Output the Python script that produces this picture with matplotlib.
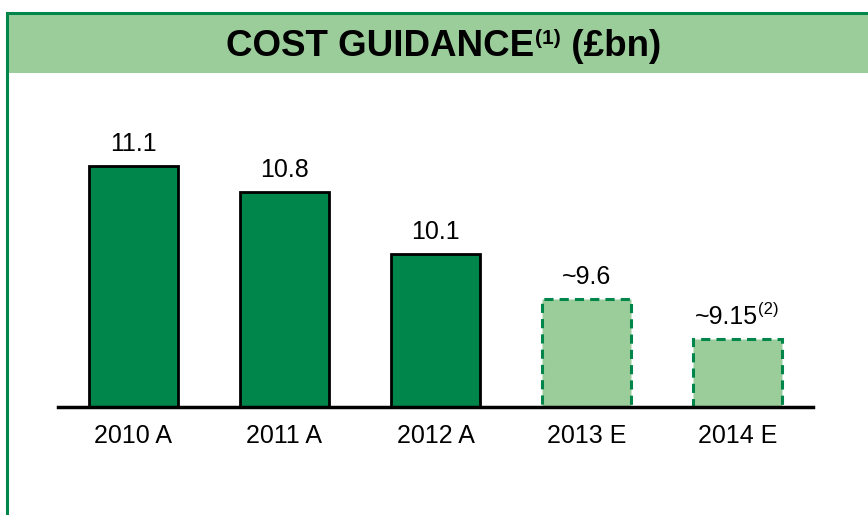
import matplotlib.pyplot as plt
from matplotlib.patches import Rectangle

plt.rcParams["font.family"] = ["Liberation Sans", "DejaVu Sans"]

CATEGORIES = ["2010 A", "2011 A", "2012 A", "2013 E", "2014 E"]
VALUES = [11.1, 10.8, 10.1, 9.6, 9.15]
LABELS = ["11.1", "10.8", "10.1", "~9.6", "~9.15"]
IS_ESTIMATE = [False, False, False, True, True]
FOOTNOTES = ["", "", "", "", "(2)"]

DARK_GREEN = "#00854A"
LIGHT_GREEN = "#9BCD9B"
W, H = 868, 515
Y_MIN = 8.38
Y_MAX = 11.84


def px(x, y):
    # pixel coords (top-left origin) -> figure fraction
    return x / W, 1 - y / H


fig = plt.figure(figsize=(W / 100, H / 100), dpi=100)

# header band and frame
band = Rectangle(px(7, 73), (W - 7) / W, 60 / H, transform=fig.transFigure,
                 facecolor=LIGHT_GREEN, edgecolor="none", zorder=-1)
fig.add_artist(band)
fig.add_artist(plt.Line2D([7 / W, 1], [1 - 13 / H] * 2, color=DARK_GREEN, lw=2.2))
fig.add_artist(plt.Line2D([7 / W] * 2, [0, 1 - 13 / H], color=DARK_GREEN, lw=2.2))

x0, y0 = px(58, 407)
x1, y1 = px(813, 100)
ax = fig.add_axes([x0, y0, x1 - x0, y1 - y0])
ax.patch.set_visible(False)
ax.set_xlim(-0.5, len(CATEGORIES) - 0.5)
ax.set_ylim(Y_MIN, Y_MAX)

# title in pieces so the footnote mark can be raised
t1 = ax.annotate("COST GUIDANCE", xy=px(226, 47), xycoords="figure fraction",
                 fontsize=26.5, fontweight="bold", ha="left", va="center",
                 annotation_clip=False)
t2 = ax.annotate("(1)", xy=(1, 1), xycoords=t1, xytext=(1, 1),
                 textcoords="offset pixels", fontsize=15, fontweight="bold",
                 ha="left", va="top", annotation_clip=False)
ax.annotate(" (£bn)", xy=(1, 0), xycoords=(t2, t1), xytext=(0, 0),
            textcoords="offset pixels", fontsize=26.5, fontweight="bold",
            ha="left", va="bottom", annotation_clip=False)

for i, (val, est) in enumerate(zip(VALUES, IS_ESTIMATE)):
    if est:
        ax.bar(i, val - Y_MIN, bottom=Y_MIN, width=0.59, color=LIGHT_GREEN,
               edgecolor=DARK_GREEN, linewidth=2.2, linestyle=(0, (3, 2)))
    else:
        ax.bar(i, val - Y_MIN, bottom=Y_MIN, width=0.59, color=DARK_GREEN,
               edgecolor="black", linewidth=2)

for i, (val, lab, note) in enumerate(zip(VALUES, LABELS, FOOTNOTES)):
    shift = -11 if note else 0
    t = ax.annotate(lab, xy=(i, val), xytext=(shift, 22), textcoords="offset pixels",
                    ha="center", va="center", fontsize=18)
    if note:
        ax.annotate(note, xy=(1, 1), xycoords=t, xytext=(0, 3),
                    textcoords="offset pixels", ha="left", va="top", fontsize=12)

for side in ["left", "right", "top"]:
    ax.spines[side].set_visible(False)
ax.spines["bottom"].set_linewidth(2.5)
ax.spines["bottom"].set_zorder(5)
ax.set_yticks([])
ax.set_xticks(range(len(CATEGORIES)))
ax.set_xticklabels(CATEGORIES, fontsize=18)
ax.tick_params(axis="x", length=0, pad=12)

fig.savefig("out.png", dpi=100)
